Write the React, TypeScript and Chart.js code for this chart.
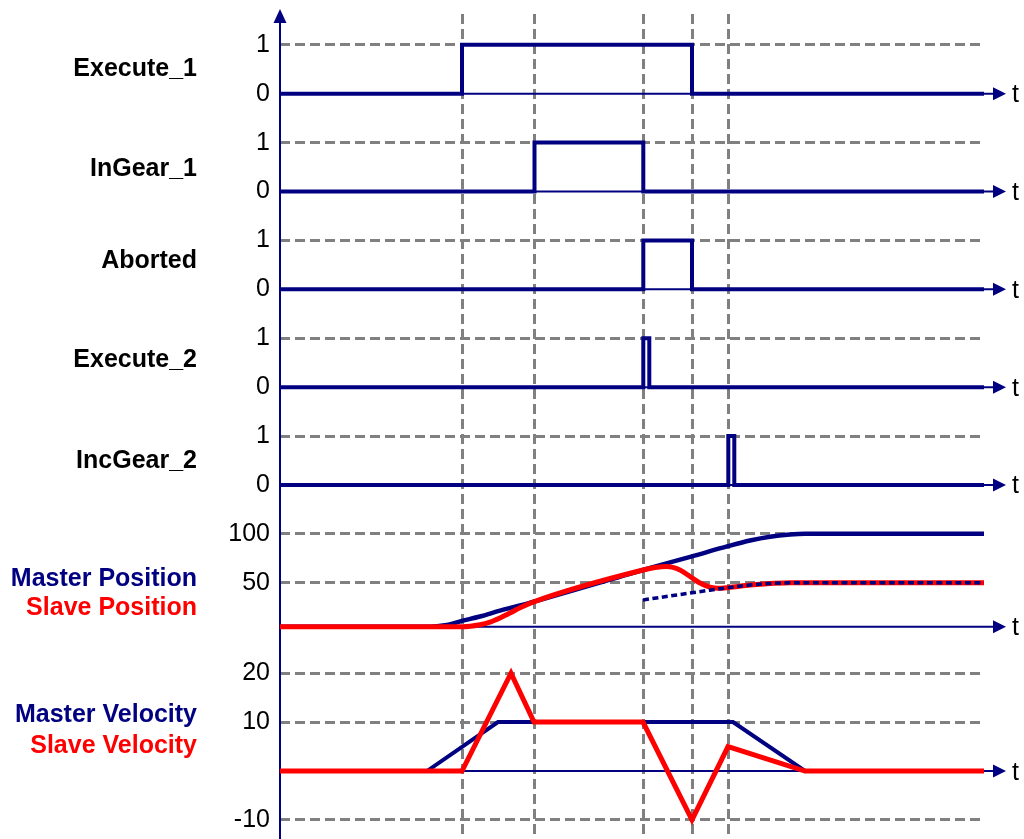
import React, { useEffect, useRef } from 'react';
import { Chart, registerables } from 'chart.js';

Chart.register(...registerables);

const NAVY = '#000080';
const RED = '#ff0000';
const GRID = '#808080';
const FONT = '"Liberation Sans", Arial, sans-serif';

// ---- time axis ----
const T_MAX = 70.5;
const EVENT_TIMES = [18.2, 25.45, 36.33, 41.2, 44.83];

// ---- digital signals (edge times / levels) ----
const EXECUTE1_T = [0, 18.2, 41.2, 70.4];
const EXECUTE1_V = [0, 1, 0, 0];
const INGEAR1_T = [0, 25.45, 36.33, 70.4];
const INGEAR1_V = [0, 1, 0, 0];
const ABORTED_T = [0, 36.33, 41.2, 70.4];
const ABORTED_V = [0, 1, 0, 0];
const EXECUTE2_T = [0, 36.33, 36.93, 70.4];
const EXECUTE2_V = [0, 1, 0, 0];
const INCGEAR2_T = [0, 44.83, 45.43, 70.4];
const INCGEAR2_V = [0, 1, 0, 0];

// ---- positions ----
const MASTER_POS_T = [0, 15.0, 16.5, 18.2, 20.0, 22.0, 25.5, 36.3, 41.2, 44.8, 47.0, 49.0, 51.0, 52.5, 70.4];
const MASTER_POS_V = [5, 5, 6.5, 11, 15.5, 21.5, 31, 63, 77, 87.4, 93.2, 97.1, 99.3, 100, 100];
const SLAVE_POS_T = [0, 18.2, 20.0, 21.0, 22.0, 23.1, 24.0, 25.5, 36.3, 37.5, 38.7, 40.0, 41.0, 42.0, 43.0, 43.8, 44.8, 47.0, 49.0, 51.0, 52.5, 70.4];
const SLAVE_POS_V = [5, 5, 7, 9.7, 14, 19.6, 24.5, 31, 63, 65.6, 66.6, 63, 56.4, 49.7, 45.5, 44.3, 45.0, 47.6, 49.2, 49.9, 50, 50];
const SLAVE2_POS_T = [36.3, 43.0, 44.8, 47.0, 49.0, 51.0, 52.5, 70.4];
const SLAVE2_POS_V = [32.4, 42.4, 45.0, 47.6, 49.2, 49.9, 50, 50];

// ---- velocities ----
const MASTER_VEL_T = [0, 14.7, 21.8, 45.3, 52.5, 70.4];
const MASTER_VEL_V = [0, 0, 10, 10, 0, 0];
const SLAVE_VEL_T = [0, 18.2, 23.1, 25.4, 36.3, 41.2, 44.8, 52.5, 70.4];
const SLAVE_VEL_V = [0, 0, 20, 10, 10, -10, 5, 0, 0];

// ---- tick labels per row ----
const DIGITAL_TICKS = [0, 1];
const POS_TICKS = [100, 50];
const VEL_TICKS = [20, 10, -10];

// ---- row layout (level offset / scale in grid units) ----
const ROWS = {
  exec1: { offset: 13.85, scale: 1, axisAt: 0, ticks: DIGITAL_TICKS },
  ingear1: { offset: 11.85, scale: 1, axisAt: 0, ticks: DIGITAL_TICKS },
  aborted: { offset: 9.85, scale: 1, axisAt: 0, ticks: DIGITAL_TICKS },
  exec2: { offset: 7.85, scale: 1, axisAt: 0, ticks: DIGITAL_TICKS },
  incgear2: { offset: 5.85, scale: 1, axisAt: 0, ticks: DIGITAL_TICKS },
  pos: { offset: 2.85, scale: 1 / 50, axisAt: 5, ticks: POS_TICKS },
  vel: { offset: 0, scale: 1 / 10, axisAt: 0, ticks: VEL_TICKS },
};

const LABELS = [
  { text: 'Execute_1', color: '#000000', level: 14.36 },
  { text: 'InGear_1', color: '#000000', level: 12.31 },
  { text: 'Aborted', color: '#000000', level: 10.42 },
  { text: 'Execute_2', color: '#000000', level: 8.4 },
  { text: 'IncGear_2', color: '#000000', level: 6.34 },
  { text: 'Master Position', color: NAVY, level: 3.926 },
  { text: 'Slave Position', color: RED, level: 3.323 },
  { text: 'Master Velocity', color: NAVY, level: 1.145 },
  { text: 'Slave Velocity', color: RED, level: 0.501 },
];

type Row = { offset: number; scale: number; axisAt: number; ticks: number[] };
const lvl = (r: Row, v: number) => r.offset + v * r.scale;
const pts = (r: Row, T: number[], V: number[]) => T.map((t, i) => ({ x: t, y: lvl(r, V[i]) }));

const Y_TICKS: { level: number; label: string; grid: boolean }[] = [];
Object.values(ROWS).forEach((r) => {
  r.ticks.forEach((v) => Y_TICKS.push({ level: lvl(r, v), label: String(v), grid: v !== 0 }));
});
const BASELINES = Object.values(ROWS).map((r) => lvl(r, r.axisAt));

const overlayPlugin = {
  id: 'overlay',
  beforeDatasetsDraw(chart: any) {
    const { ctx, chartArea, scales } = chart;
    const y = scales.y;
    ctx.save();
    ctx.strokeStyle = NAVY;
    ctx.fillStyle = NAVY;
    ctx.lineWidth = 2;
    // vertical axis with arrow
    const ax = chartArea.left;
    ctx.beginPath();
    ctx.moveTo(ax, chartArea.bottom);
    ctx.lineTo(ax, chartArea.top + 8);
    ctx.stroke();
    ctx.beginPath();
    ctx.moveTo(ax, chartArea.top - 5);
    ctx.lineTo(ax - 6.5, chartArea.top + 9);
    ctx.lineTo(ax + 6.5, chartArea.top + 9);
    ctx.closePath();
    ctx.fill();
    // time axes
    const base = chartArea.right + 8;
    BASELINES.forEach((b) => {
      const py = y.getPixelForValue(b);
      ctx.beginPath();
      ctx.moveTo(ax, py);
      ctx.lineTo(base + 1, py);
      ctx.stroke();
      ctx.beginPath();
      ctx.moveTo(base + 13, py);
      ctx.lineTo(base, py - 6.5);
      ctx.lineTo(base, py + 6.5);
      ctx.closePath();
      ctx.fill();
      ctx.save();
      ctx.fillStyle = '#000000';
      ctx.font = `25px ${FONT}`;
      ctx.textAlign = 'left';
      ctx.textBaseline = 'alphabetic';
      ctx.fillText('t', base + 19, py + 8.5);
      ctx.restore();
    });
    // row labels
    ctx.font = `bold 25px ${FONT}`;
    ctx.textAlign = 'right';
    ctx.textBaseline = 'middle';
    LABELS.forEach((l) => {
      ctx.fillStyle = l.color;
      ctx.fillText(l.text, 197, y.getPixelForValue(l.level));
    });
    ctx.restore();
  },
};

export default function App() {
  const ref = useRef<HTMLCanvasElement | null>(null);
  useEffect(() => {
    if (!ref.current) return;
    const digital = (r: Row, T: number[], V: number[]) => ({
      data: pts(r, T, V),
      borderColor: NAVY,
      borderWidth: 4,
      stepped: 'before' as const,
      pointRadius: 0,
      order: 3,
    });
    const chart = new Chart(ref.current, {
      type: 'line',
      data: {
        datasets: [
          digital(ROWS.exec1, EXECUTE1_T, EXECUTE1_V),
          digital(ROWS.ingear1, INGEAR1_T, INGEAR1_V),
          digital(ROWS.aborted, ABORTED_T, ABORTED_V),
          digital(ROWS.exec2, EXECUTE2_T, EXECUTE2_V),
          digital(ROWS.incgear2, INCGEAR2_T, INCGEAR2_V),
          {
            data: pts(ROWS.pos, MASTER_POS_T, MASTER_POS_V),
            borderColor: NAVY,
            borderWidth: 4.5,
            cubicInterpolationMode: 'monotone',
            pointRadius: 0,
            order: 4,
          },
          {
            data: pts(ROWS.pos, SLAVE_POS_T, SLAVE_POS_V),
            borderColor: RED,
            borderWidth: 5,
            cubicInterpolationMode: 'monotone',
            pointRadius: 0,
            order: 2,
          },
          {
            data: pts(ROWS.pos, SLAVE2_POS_T, SLAVE2_POS_V),
            borderColor: NAVY,
            borderWidth: 3.5,
            borderDash: [6, 3.5],
            cubicInterpolationMode: 'monotone',
            pointRadius: 0,
            order: 1,
          },
          {
            data: pts(ROWS.vel, MASTER_VEL_T, MASTER_VEL_V),
            borderColor: NAVY,
            borderWidth: 4,
            tension: 0,
            pointRadius: 0,
            order: 4,
          },
          {
            data: pts(ROWS.vel, SLAVE_VEL_T, SLAVE_VEL_V),
            borderColor: RED,
            borderWidth: 5,
            tension: 0,
            pointRadius: 0,
            order: 2,
          },
        ] as any,
      },
      options: {
        animation: false,
        responsive: false,
        devicePixelRatio: 1,
        layout: { padding: { top: 14, right: 39, bottom: 0, left: 0 } },
        plugins: { legend: { display: false }, tooltip: { enabled: false } },
        events: [],
        scales: {
          x: {
            type: 'linear',
            min: 0,
            max: T_MAX,
            afterBuildTicks: (s: any) => {
              s.ticks = EVENT_TIMES.map((v) => ({ value: v }));
            },
            afterFit: (s: any) => {
              s.height = 0;
              s.paddingLeft = 0;
              s.paddingRight = 0;
            },
            ticks: { display: false },
            grid: { color: GRID, lineWidth: 3, drawTicks: false },
            border: { display: false, dash: [10, 5] },
          },
          y: {
            type: 'linear',
            min: -1.39,
            max: 15.48,
            afterBuildTicks: (s: any) => {
              s.ticks = Y_TICKS.map((t) => ({ value: t.level }));
            },
            afterFit: (s: any) => {
              s.width = 280;
              s.paddingTop = 0;
              s.paddingBottom = 0;
            },
            ticks: {
              autoSkip: false,
              padding: 10,
              color: '#000000',
              font: { family: FONT, size: 25 },
              callback: (_v: any, i: number) => Y_TICKS[i].label,
            },
            grid: {
              color: (c: any) => (Y_TICKS[c.index] && Y_TICKS[c.index].grid ? GRID : 'rgba(0,0,0,0)'),
              lineWidth: 3,
              drawTicks: false,
            },
            border: { display: false, dash: [10, 5] },
          },
        },
      } as any,
      plugins: [overlayPlugin],
    });
    return () => chart.destroy();
  }, []);
  return (
    <div style={{ position: 'absolute', left: 0, top: 0, width: 1024, height: 839, background: '#fff' }}>
      <canvas ref={ref} width={1024} height={839} style={{ display: 'block' }} />
    </div>
  );
}
